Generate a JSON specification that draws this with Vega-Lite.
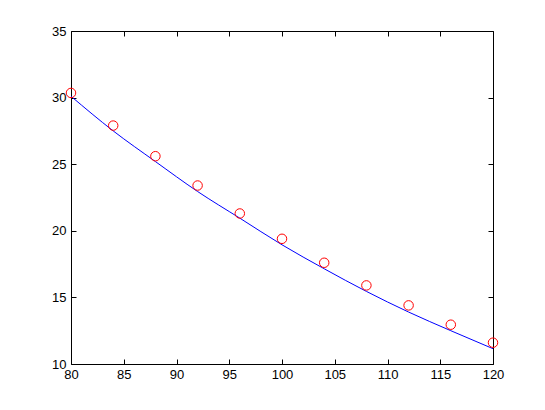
{
  "$schema": "https://vega.github.io/schema/vega-lite/v6.json",
  "autosize": "none",
  "width": 422,
  "height": 333,
  "padding": {"left": 71, "top": 31, "right": 52, "bottom": 46},
  "background": "white",
  "config": {
    "view": {"stroke": null},
    "axis": {
      "grid": false,
      "domainColor": "black",
      "domainWidth": 1,
      "tickColor": "black",
      "tickSize": -5,
      "labelFont": "Liberation Sans",
      "labelFontSize": 13,
      "labelColor": "black",
      "title": null
    }
  },
  "datasets": {
    "curve": [
      {"x": 80, "y": 30.1}, {"x": 84, "y": 27.5}, {"x": 88, "y": 25.2},
      {"x": 92, "y": 22.95}, {"x": 96, "y": 20.95}, {"x": 100, "y": 18.95},
      {"x": 104, "y": 17.15}, {"x": 108, "y": 15.45}, {"x": 112, "y": 13.9},
      {"x": 116, "y": 12.5}, {"x": 120, "y": 11.15}
    ],
    "points": [
      {"x": 80, "y": 30.35}, {"x": 84, "y": 27.9}, {"x": 88, "y": 25.6},
      {"x": 92, "y": 23.4}, {"x": 96, "y": 21.3}, {"x": 100, "y": 19.4},
      {"x": 104, "y": 17.6}, {"x": 108, "y": 15.9}, {"x": 112, "y": 14.4},
      {"x": 116, "y": 12.95}, {"x": 120, "y": 11.6}
    ]
  },
  "layer": [
    {
      "data": {"name": "curve"},
      "mark": {"type": "line", "color": "#0000ff", "strokeWidth": 1, "interpolate": "monotone"},
      "encoding": {
        "x": {"field": "x", "type": "quantitative", "scale": {"domain": [80, 120], "nice": false, "zero": false},
              "axis": {"orient": "bottom", "values": [80, 85, 90, 95, 100, 105, 110, 115, 120], "labelPadding": 9, "labelFlush": false}},
        "y": {"field": "y", "type": "quantitative", "scale": {"domain": [10, 35], "nice": false, "zero": false},
              "axis": {"orient": "left", "values": [10, 15, 20, 25, 30, 35], "labelPadding": 10}}
      }
    },
    {
      "data": {"name": "points"},
      "mark": {"type": "point", "shape": "circle", "filled": false, "color": "#ff0000", "size": 90, "strokeWidth": 1, "opacity": 1},
      "encoding": {
        "x": {"field": "x", "type": "quantitative",
              "axis": {"orient": "top", "values": [80, 85, 90, 95, 100, 105, 110, 115, 120], "labels": false}},
        "y": {"field": "y", "type": "quantitative",
              "axis": {"orient": "right", "values": [10, 15, 20, 25, 30, 35], "labels": false}}
      }
    }
  ],
  "resolve": {"axis": {"x": "independent", "y": "independent"}}
}
